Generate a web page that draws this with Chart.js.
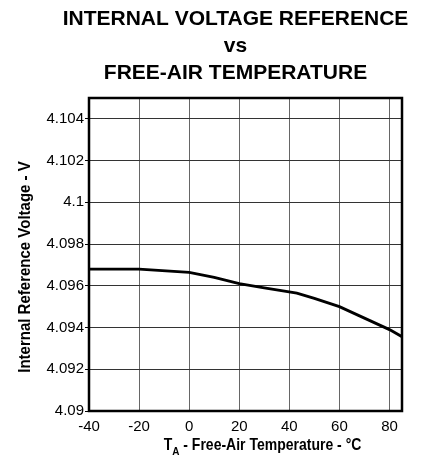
<!DOCTYPE html>
<html>
<head>
<meta charset="utf-8">
<script src="https://cdn.jsdelivr.net/npm/chart.js@4.4.1/dist/chart.umd.min.js"></script>
<style>
  html, body { margin: 0; padding: 0; background: #fff; }
  #wrap { width: 427px; height: 461px; }
</style>
</head>
<body>
<div id="wrap"><canvas id="chart" width="427" height="461"></canvas></div>
<script>
// chart data
const titleLines = ['INTERNAL VOLTAGE REFERENCE', 'vs', 'FREE-AIR TEMPERATURE'];
const yTitle = 'Internal Reference Voltage - V';
const temps = [-40, -20, 0, 10, 20, 30, 43, 50, 60, 70, 80, 85];
const volts = [4.0968, 4.0968, 4.09664, 4.0964, 4.0961, 4.0959, 4.09565, 4.0954, 4.0950, 4.09445, 4.0939, 4.09356];
const xTicks = [-40, -20, 0, 20, 40, 60, 80];
const yTicks = [4.09, 4.092, 4.094, 4.096, 4.098, 4.1, 4.102, 4.104];

const FONT = '"Liberation Sans", Arial, Helvetica, sans-serif';
Chart.defaults.font.family = FONT;
Chart.defaults.color = '#000';

// frame + titles drawn on top of the chart area
const decorations = {
    id: 'decorations',
    afterDraw(chart) {
        const ctx = chart.ctx;
        const a = chart.chartArea;
        ctx.save();
        ctx.strokeStyle = '#000';
        ctx.lineWidth = 2.5;
        ctx.strokeRect(a.left, a.top, a.right - a.left, a.bottom - a.top);

        ctx.fillStyle = '#000';
        ctx.textAlign = 'center';
        ctx.textBaseline = 'alphabetic';
        ctx.font = 'bold 21px ' + FONT;
        titleLines.forEach((t, i) => ctx.fillText(t, 235.5, 25 + i * 27));

        // x axis title with subscript A (glyphs a bit taller than plain Arial)
        const bigFont = 'bold 14px ' + FONT;
        const subFont = 'bold 10px ' + FONT;
        const rest = ' - Free-Air Temperature - \u00B0C';
        ctx.font = bigFont;
        const wT = ctx.measureText('T').width;
        const wRest = ctx.measureText(rest).width;
        ctx.font = subFont;
        const wA = ctx.measureText('A').width;
        ctx.save();
        ctx.translate(0, 450);
        ctx.scale(1, 1.15);
        let x = 262.5 - (wT + wA + wRest) / 2;
        ctx.textAlign = 'left';
        ctx.font = bigFont;
        ctx.fillText('T', x, 0);
        x += wT;
        ctx.font = subFont;
        ctx.fillText('A', x, 4.5);
        x += wA;
        ctx.font = bigFont;
        ctx.fillText(rest, x, 0);
        ctx.restore();

        // y axis title
        ctx.translate(25, 267);
        ctx.rotate(-Math.PI / 2);
        ctx.scale(1, 1.12);
        ctx.textAlign = 'center';
        ctx.textBaseline = 'middle';
        ctx.font = 'bold 15px ' + FONT;
        ctx.fillText(yTitle, 0, 0);
        ctx.restore();
    }
};

new Chart(document.getElementById('chart'), {
    type: 'line',
    data: {
        datasets: [{
            data: temps.map((t, i) => ({ x: t, y: volts[i] })),
            borderColor: '#000',
            borderWidth: 2.8,
            pointRadius: 0,
            tension: 0,
            fill: false
        }]
    },
    options: {
        responsive: false,
        animation: false,
        events: [],
        layout: { padding: { top: 98, right: 25, left: 0, bottom: 0 } },
        plugins: { legend: { display: false }, tooltip: { enabled: false }, title: { display: false } },
        scales: {
            x: {
                type: 'linear',
                min: -40,
                max: 85,
                afterBuildTicks: s => { s.ticks = xTicks.map(v => ({ value: v })); },
                afterFit: s => { s.height = 50; },
                border: { display: false },
                grid: { color: '#666', lineWidth: 1, drawTicks: false },
                ticks: { font: { size: 15 }, padding: 7, maxRotation: 0, callback: v => String(v) }
            },
            y: {
                min: 4.09,
                max: 4.105,
                afterBuildTicks: s => { s.ticks = yTicks.map(v => ({ value: v })); },
                afterFit: s => { s.width = 89; },
                border: { display: false },
                grid: { color: '#333', lineWidth: 1, drawTicks: true, tickLength: 4, tickColor: '#000' },
                ticks: { font: { size: 15 }, padding: 1, callback: v => String(+v.toFixed(3)) }
            }
        }
    },
    plugins: [decorations]
});
</script>
</body>
</html>
